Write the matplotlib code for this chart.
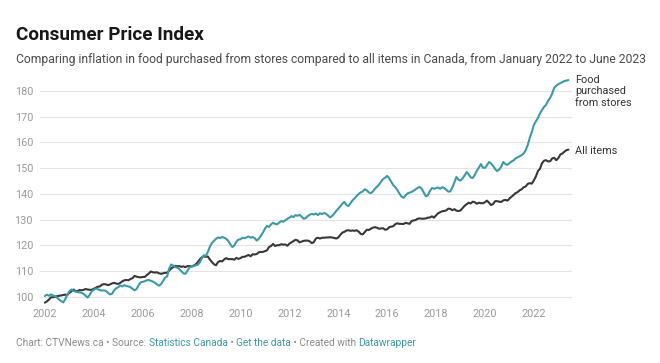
import matplotlib.pyplot as plt
import numpy as np

plt.rcParams['font.family'] = ['Roboto', 'DejaVu Sans']

# Monthly CPI (2002=100), January 2002 to June 2023
food = [
    100.4, 100.9, 100.5, 101.0, 100.6, 100.3, 99.7, 99.0, 98.4, 97.9, 99.2, 100.9,    # 2002
    102.2, 102.9, 102.4, 102.1, 101.9, 101.8, 101.6, 101.2, 100.5, 99.8, 100.9, 102.2,  # 2003
    102.8, 103.3, 103.0, 102.7, 102.5, 102.6, 102.3, 101.6, 101.0, 101.3, 102.6, 103.4,  # 2004
    103.8, 104.5, 104.1, 104.6, 104.3, 104.1, 103.8, 103.2, 102.6, 103.1, 104.6, 105.7,  # 2005
    105.9, 106.1, 106.5, 106.6, 106.3, 106.0, 105.5, 104.9, 104.4, 105.0, 106.2, 107.5,  # 2006
    108.0, 111.0, 112.6, 112.2, 111.6, 111.4, 110.8, 110.0, 109.2, 109.0, 110.2, 111.5,  # 2007
    111.8, 112.0, 112.3, 112.5, 113.4, 115.0, 116.2, 116.0, 117.5, 119.5, 121.0, 121.8,  # 2008
    122.6, 123.1, 122.9, 123.3, 123.0, 122.6, 121.8, 120.5, 119.4, 120.0, 121.5, 122.3,  # 2009
    122.4, 123.0, 122.8, 123.2, 123.5, 123.0, 123.3, 122.8, 121.9, 122.6, 123.8, 125.0,  # 2010
    126.5, 127.6, 127.2, 128.2, 128.8, 128.4, 128.2, 128.9, 129.5, 129.2, 129.8, 130.3,  # 2011
    130.8, 131.4, 131.0, 131.8, 131.5, 131.9, 131.2, 130.4, 130.6, 131.4, 131.9, 132.3,  # 2012
    132.0, 132.4, 131.8, 132.5, 132.2, 132.6, 132.3, 131.6, 130.9, 131.5, 132.4, 133.4,  # 2013
    134.3, 135.2, 136.2, 136.9, 135.7, 135.3, 136.4, 137.5, 138.3, 139.2, 140.0, 140.6,  # 2014
    141.0, 141.8, 141.4, 140.6, 140.3, 141.0, 142.0, 142.8, 143.6, 144.8, 145.8, 146.3,  # 2015
    147.0, 146.1, 144.7, 143.4, 142.6, 141.5, 140.2, 139.0, 138.5, 139.4, 140.2, 140.5,  # 2016
    140.8, 141.3, 141.8, 142.4, 142.7, 142.0, 140.5, 139.1, 139.5, 141.2, 142.3, 142.0,  # 2017
    142.3, 142.5, 142.0, 142.6, 142.3, 141.6, 140.9, 141.0, 142.5, 144.5, 146.6, 145.5,  # 2018
    145.2, 146.0, 147.2, 148.5, 147.6, 146.4, 146.2, 147.4, 149.0, 150.2, 151.6, 150.2,  # 2019
    150.1, 151.2, 152.4, 151.8, 150.9, 149.6, 148.9, 149.5, 150.6, 152.4, 151.6, 151.3,  # 2020
    151.9, 152.6, 153.0, 153.8, 154.2, 154.6, 155.1, 155.7, 157.0, 159.0, 161.8, 164.0,  # 2021
    166.8, 168.2, 169.5, 171.2, 172.6, 173.8, 174.6, 176.2, 177.3, 179.0, 181.2, 182.0,  # 2022
    182.6, 183.0, 183.4, 183.8, 184.0, 184.2,                                            # 2023
]

all_items = [
    97.8, 98.3, 99.0, 99.9, 99.9, 100.1, 100.3, 100.5, 100.6, 100.8, 100.9, 100.8,      # 2002
    101.6, 102.2, 102.9, 102.3, 102.3, 102.7, 102.6, 102.8, 103.1, 102.9, 102.8, 102.8,  # 2003
    103.2, 103.6, 104.0, 104.1, 104.8, 105.0, 104.9, 104.6, 104.9, 105.3, 105.5, 105.2,  # 2004
    105.1, 105.5, 106.1, 106.5, 106.6, 106.5, 107.0, 107.3, 108.2, 107.9, 107.7, 107.6,  # 2005
    107.8, 107.8, 108.5, 109.1, 109.9, 109.6, 109.5, 109.6, 109.2, 109.0, 109.2, 109.4,  # 2006
    109.4, 110.2, 111.1, 111.6, 112.1, 111.9, 112.0, 111.7, 111.9, 111.6, 112.0, 112.0,  # 2007
    111.8, 112.2, 112.6, 113.5, 114.6, 115.4, 115.8, 115.6, 115.7, 114.5, 113.6, 112.7,  # 2008
    112.3, 113.6, 114.0, 113.8, 114.6, 115.1, 114.7, 114.7, 114.7, 114.5, 115.2, 114.8,  # 2009
    115.1, 115.6, 115.6, 116.0, 116.3, 115.8, 116.6, 116.5, 116.7, 117.4, 117.5, 117.5,  # 2010
    117.8, 118.1, 119.4, 119.8, 120.6, 119.8, 120.1, 120.1, 120.5, 120.3, 120.4, 119.9,  # 2011
    120.7, 121.2, 121.7, 122.2, 122.0, 121.2, 121.5, 121.8, 121.9, 121.9, 121.6, 120.9,  # 2012
    121.3, 122.7, 123.0, 122.7, 123.0, 123.0, 123.1, 123.1, 123.2, 123.1, 122.9, 122.7,  # 2013
    123.1, 124.1, 125.0, 125.3, 125.8, 125.9, 125.7, 125.8, 125.7, 125.9, 125.4, 124.5,  # 2014
    124.3, 125.2, 126.1, 126.0, 126.5, 126.9, 127.1, 126.9, 126.5, 126.6, 126.7, 126.1,  # 2015
    126.3, 127.1, 127.3, 127.5, 128.3, 128.6, 128.4, 128.4, 128.3, 128.8, 128.6, 128.4,  # 2016
    129.5, 129.7, 129.9, 130.4, 130.5, 130.4, 130.4, 130.5, 130.8, 130.9, 131.3, 130.8,  # 2017
    131.7, 132.5, 132.9, 133.3, 133.4, 133.6, 134.3, 134.2, 133.7, 134.1, 133.5, 133.4,  # 2018
    133.6, 134.5, 135.4, 136.0, 136.6, 136.3, 137.0, 136.8, 136.2, 136.6, 136.4, 136.4,  # 2019
    136.8, 137.4, 136.6, 135.7, 136.1, 137.2, 137.2, 137.0, 136.9, 137.5, 137.7, 137.4,  # 2020
    138.2, 138.9, 139.6, 140.3, 140.7, 141.4, 141.8, 142.6, 142.9, 143.9, 144.2, 144.0,  # 2021
    145.3, 146.8, 148.9, 149.8, 151.9, 152.9, 153.1, 152.6, 152.7, 153.8, 154.0, 153.1,  # 2022
    153.9, 155.3, 155.7, 156.4, 157.0, 157.2,                                            # 2023
]

start_year = 2002
year_ticks = list(range(2002, 2023, 2))
y_ticks = list(range(100, 190, 10))

food_label = 'Food\npurchased\nfrom stores'
all_label = 'All items'

months = start_year + np.arange(len(food)) / 12

teal = '#3b9aaa'
dark = '#383838'
grey = '#9a9a9a'

W, H = 660, 363
fig = plt.figure(figsize=(W / 100, H / 100), dpi=100)

# axes box in pixels: left 40, right 572, top 78, bottom 305
ax = fig.add_axes([40 / W, (H - 305) / H, 532 / W, 227 / H])
ax.set_xlim(2001.80, 2023.56)
ax.set_ylim(96.9, 185.0)

ax.plot(months, all_items, color=dark, lw=1.5, solid_capstyle='round', zorder=3)
ax.plot(months, food, color=teal, lw=1.5, solid_capstyle='round', zorder=4)

ax.set_yticks(y_ticks)
ax.set_xticks(year_ticks)
ax.set_xticklabels([str(y) for y in year_ticks])
ax.grid(True, axis='y', color='#e4e4e4', lw=0.8, zorder=0)
ax.tick_params(axis='both', length=0, labelsize=7.8, labelcolor=grey)
ax.tick_params(axis='y', pad=5)
ax.tick_params(axis='x', pad=3)
for s in ax.spines.values():
    s.set_visible(False)

# line end labels
ax.annotate(food_label, xy=(1, food[-1]), xycoords=('axes fraction', 'data'),
            xytext=(2, 4), textcoords='offset points', va='top', ha='left',
            fontsize=7.8, color='#333333', linespacing=1.2, annotation_clip=False)
ax.annotate(all_label, xy=(1, all_items[-1]), xycoords=('axes fraction', 'data'),
            xytext=(2, -1), textcoords='offset points', va='center', ha='left',
            fontsize=7.8, color='#333333', annotation_clip=False)

# title and subtitle
fig.text(16 / W, 1 - 35 / H, 'Consumer Price Index', fontsize=13.6,
         fontweight='bold', color='#181818', va='center', ha='left')
fig.text(16 / W, 1 - 60 / H,
         'Comparing inflation in food purchased from stores compared to all items '
         'in Canada, from January 2022 to June 2023',
         fontsize=8.75, color='#4a4a4a', va='center', ha='left')

# footer with coloured link words
footer = [
    ('Chart: CTVNews.ca \u2022 Source: ', '#8c8c8c'),
    ('Statistics Canada', '#3b9aaa'),
    (' \u2022 ', '#8c8c8c'),
    ('Get the data', '#3b9aaa'),
    (' \u2022 Created with ', '#8c8c8c'),
    ('Datawrapper', '#3b9aaa'),
]
prev = fig.text(16 / W, 1 - 348 / H, footer[0][0], fontsize=7.3,
                color=footer[0][1], va='bottom', ha='left')
for txt, col in footer[1:]:
    prev = ax.annotate(txt, xy=(1, 0), xycoords=prev, va='bottom', ha='left',
                       fontsize=7.3, color=col, annotation_clip=False)

fig.savefig('out.png', dpi=100)
